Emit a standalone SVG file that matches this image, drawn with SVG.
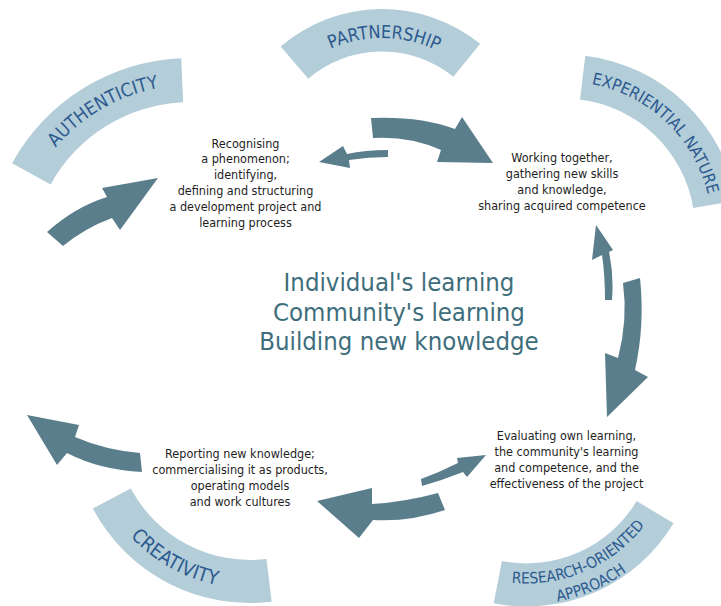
<svg xmlns="http://www.w3.org/2000/svg" width="721" height="606" viewBox="0 0 721 606">
<style>
.band{fill:#b3cdd9}
.bt{font-family:"DejaVu Sans Condensed","Liberation Sans",sans-serif;fill:#2d5a8e}
.arr{fill:#5a7e8c}
.body{font-family:"DejaVu Sans Condensed","Liberation Sans",sans-serif;fill:#1e1e1e;font-size:12.5px;text-anchor:middle}
.ctr{font-family:"DejaVu Sans Condensed","Liberation Sans",sans-serif;fill:#3e6e7c;font-size:25.5px;text-anchor:middle}
</style>
<defs>
<path id="pAuth" d="M14.7,245.9 A176,176 0 0 1 264.4,101.7"/>
<path id="pPart" d="M272,101.5 A127,127 0 0 1 494.1,105.4"/>
<path id="pExp" d="M538.3,83.75 A148,148 0 0 1 710.9,247.8"/>
<path id="pCre" d="M87.3,441 A163.5,163.5 0 0 0 320.6,572.5"/>
<path id="pRes1" d="M437.8,554.3 A149,149 0 0 0 674.4,452"/>
<path id="pRes2" d="M425.4,571 A169.5,169.5 0 0 0 694.8,454.4"/>
</defs>
<rect width="721" height="606" fill="#ffffff"/>
<g id="authenticity">
<path class="band" d="M12.1,163.2 A203,203 0 0 1 181.2,58.2 L183.1,102.2 A159,159 0 0 0 50.7,184.4 Z"/>
<text class="bt" style="font-size:18.5px"><textPath href="#pAuth" startOffset="50%" text-anchor="middle">AUTHENTICITY</textPath></text>
</g>
<g id="partnership">
<path class="band" d="M280.7,46.4 A156,156 0 0 1 480.2,43.8 L453.4,76.8 A113.5,113.5 0 0 0 308.3,78.7 Z"/>
<text class="bt" style="font-size:18px"><textPath href="#pPart" startOffset="50%" text-anchor="middle">PARTNERSHIP</textPath></text>
</g>
<g id="experiential">
<path class="band" d="M585.3,55.8 A175,175 0 0 1 736.6,200.6 L693.2,207.9 A131,131 0 0 0 580,99.5 Z"/>
<text class="bt" style="font-size:16.5px"><textPath href="#pExp" startOffset="50%" text-anchor="middle">EXPERIENTIAL NATURE</textPath></text>
</g>
<g id="creativity">
<path class="band" d="M92.8,508.6 A178,178 0 0 0 271.7,601.7 L266.5,559 A135,135 0 0 1 130.8,488.4 Z"/>
<text class="bt" style="font-size:19.5px"><textPath href="#pCre" startOffset="50%" text-anchor="middle">CREATIVITY</textPath></text>
</g>
<g id="research">
<path class="band" d="M673.5,523.3 A171.6,171.6 0 0 1 493.7,603.3 L501.9,561 A128.5,128.5 0 0 0 636.6,501.1 Z"/>
<text class="bt" style="font-size:15.4px"><textPath href="#pRes1" startOffset="50%" text-anchor="middle">RESEARCH-ORIENTED</textPath></text>
<text class="bt" style="font-size:15.4px"><textPath href="#pRes2" startOffset="50%" text-anchor="middle">APPROACH</textPath></text>
</g>
<g id="connectors">
<path class="arr" d="M47,232 Q75,207 107,197 L102,188 L158,178 L120,230 L112,218 Q85,228 63,246 Z"/>
<path class="arr" d="M371,118 Q420,116 455,129 L462,117 L493,163 L437,162 L441,150 Q410,136 373,138 Z"/>
<path class="arr" d="M388,150 Q365,150 347,154 L343,146 L319,162 L350,168 L349,160 Q368,157 388,157 Z"/>
<path class="arr" d="M623,283 Q628,320 618,358 L605,353 L607,417 L648,377 L635,370 Q645,325 640,278 Z"/>
<path class="arr" d="M596,225 L613,250 L609,252 Q614,275 612,300 L605,300 Q605,275 602,255 L592,260 Z"/>
<path class="arr" d="M317,501 L372,488 L372,504 Q405,502 438,493 L445,510 Q410,522 373,520 L359,538 Z"/>
<path class="arr" d="M421,479 Q440,472 458,463 L457,458 L486,455 L467,477 L463,472 Q443,480 422,486 Z"/>
<path class="arr" d="M27,415 L79,425 L75,437 Q105,450 140,453 L142,472 Q100,470 67,453 L57,465 Z"/>
</g>
<g id="recognising" class="body">
<text x="245.5" y="147.5">Recognising</text>
<text x="245.5" y="163.4">a phenomenon;</text>
<text x="245.5" y="179.3">identifying,</text>
<text x="245.5" y="195.2">defining and structuring</text>
<text x="245.5" y="211">a development project and</text>
<text x="245.5" y="227">learning process</text>
</g>
<g id="working" class="body">
<text x="562" y="162">Working together,</text>
<text x="562" y="178">gathering new skills</text>
<text x="562" y="194">and knowledge,</text>
<text x="562" y="210">sharing acquired competence</text>
</g>
<g id="evaluating" class="body">
<text x="566.5" y="439.5">Evaluating own learning,</text>
<text x="566.5" y="455.5">the community's learning</text>
<text x="566.5" y="471.5">and competence, and the</text>
<text x="566.5" y="487.5">effectiveness of the project</text>
</g>
<g id="reporting" class="body">
<text x="240" y="457.5">Reporting new knowledge;</text>
<text x="240" y="473.5">commercialising it as products,</text>
<text x="240" y="489.5">operating models</text>
<text x="240" y="505.5">and work cultures</text>
</g>
<g id="center" class="ctr">
<text x="399" y="291">Individual's learning</text>
<text x="399" y="320.5">Community's learning</text>
<text x="399" y="350">Building new knowledge</text>
</g>
</svg>
